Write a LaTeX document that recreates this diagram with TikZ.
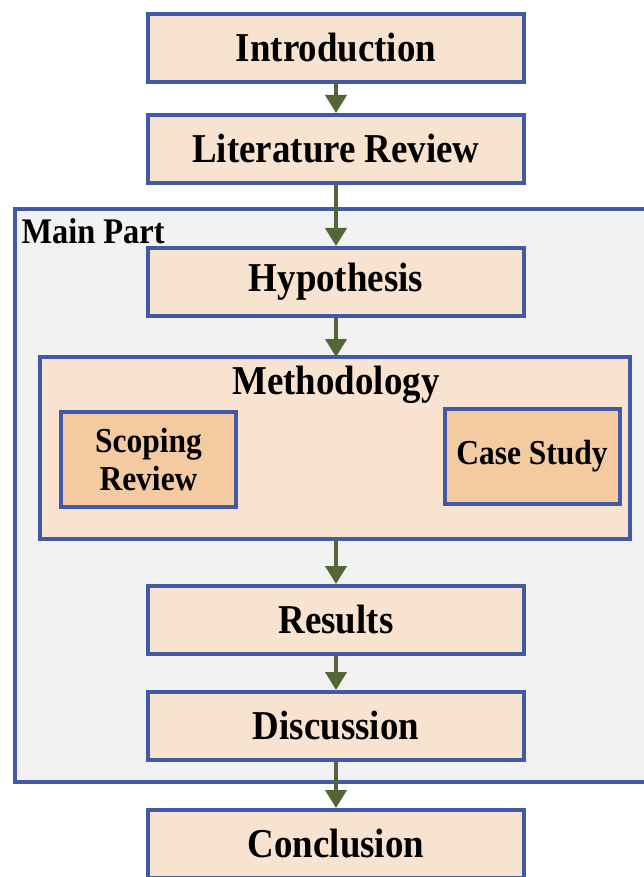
\documentclass[tikz,border=0pt]{standalone}
\usepackage{fontspec}
\setmainfont{Liberation Serif}[FakeStretch=0.9]
\usetikzlibrary{arrows.meta}
\definecolor{boxfill}{HTML}{F8E3D0}
\definecolor{subfill}{HTML}{F4CBA0}
\definecolor{boxline}{HTML}{4159A6}
\definecolor{panelfill}{HTML}{F2F2F2}
\definecolor{flow}{HTML}{566535}
\tikzset{
  stagebox/.style={draw=boxline, fill=boxfill, line width=4pt,
    minimum width=376pt, minimum height=68pt, inner sep=0pt,
    font=\fontsize{41}{46}\selectfont\bfseries},
  subbox/.style={draw=boxline, fill=subfill, line width=4pt,
    minimum width=175pt, minimum height=95pt, inner sep=0pt, align=center,
    font=\fontsize{35}{38}\selectfont\bfseries},
  flowarrow/.style={draw=flow, line width=4pt,
    -{Triangle[length=18pt,width=21pt]}},
}
\begin{document}
\begin{tikzpicture}[x=1pt,y=1pt]
\useasboundingbox (0,0) rectangle (644,-877);
\clip (0,0) rectangle (644,-877);
% grey panel grouping the main part
\draw[draw=boxline, fill=panelfill, line width=4pt] (15,-209) rectangle (670,-782);
\node[anchor=west, font=\fontsize{36}{40}\selectfont\bfseries] (mainlbl) at (18,-231) {Main Part};
% stages
\node[stagebox] (intro) at (336,-48) {Introduction};
\node[stagebox] (lit) at (336,-149) {Literature Review};
\node[stagebox] (hyp) at (336,-282) {Hypothesis};
\node[draw=boxline, fill=boxfill, line width=4pt, minimum width=590pt,
  minimum height=182pt, inner sep=0pt] (meth) at (335,-448) {};
\node[font=\fontsize{41}{46}\selectfont\bfseries] (methlbl) at (336,-385) {Methodology};
\node[subbox] (scope) at (148.5,-459.5) {Scoping\\Review};
\node[subbox] (case) at (532,-456) {Case Study};
\node[stagebox] (res) at (336,-620) {Results};
\node[stagebox] (disc) at (336,-726) {Discussion};
\node[stagebox] (concl) at (336,-844) {Conclusion};
% flow connectors
\draw[flowarrow] (intro.south) -- (lit.north);
\draw[flowarrow] (lit.south) -- (hyp.north);
\draw[flowarrow] (hyp.south) -- (336,-357);
\draw[flowarrow] (336,-539) -- (res.north);
\draw[flowarrow] (res.south) -- (disc.north);
\draw[flowarrow] (disc.south) -- (concl.north);
\end{tikzpicture}
\end{document}
